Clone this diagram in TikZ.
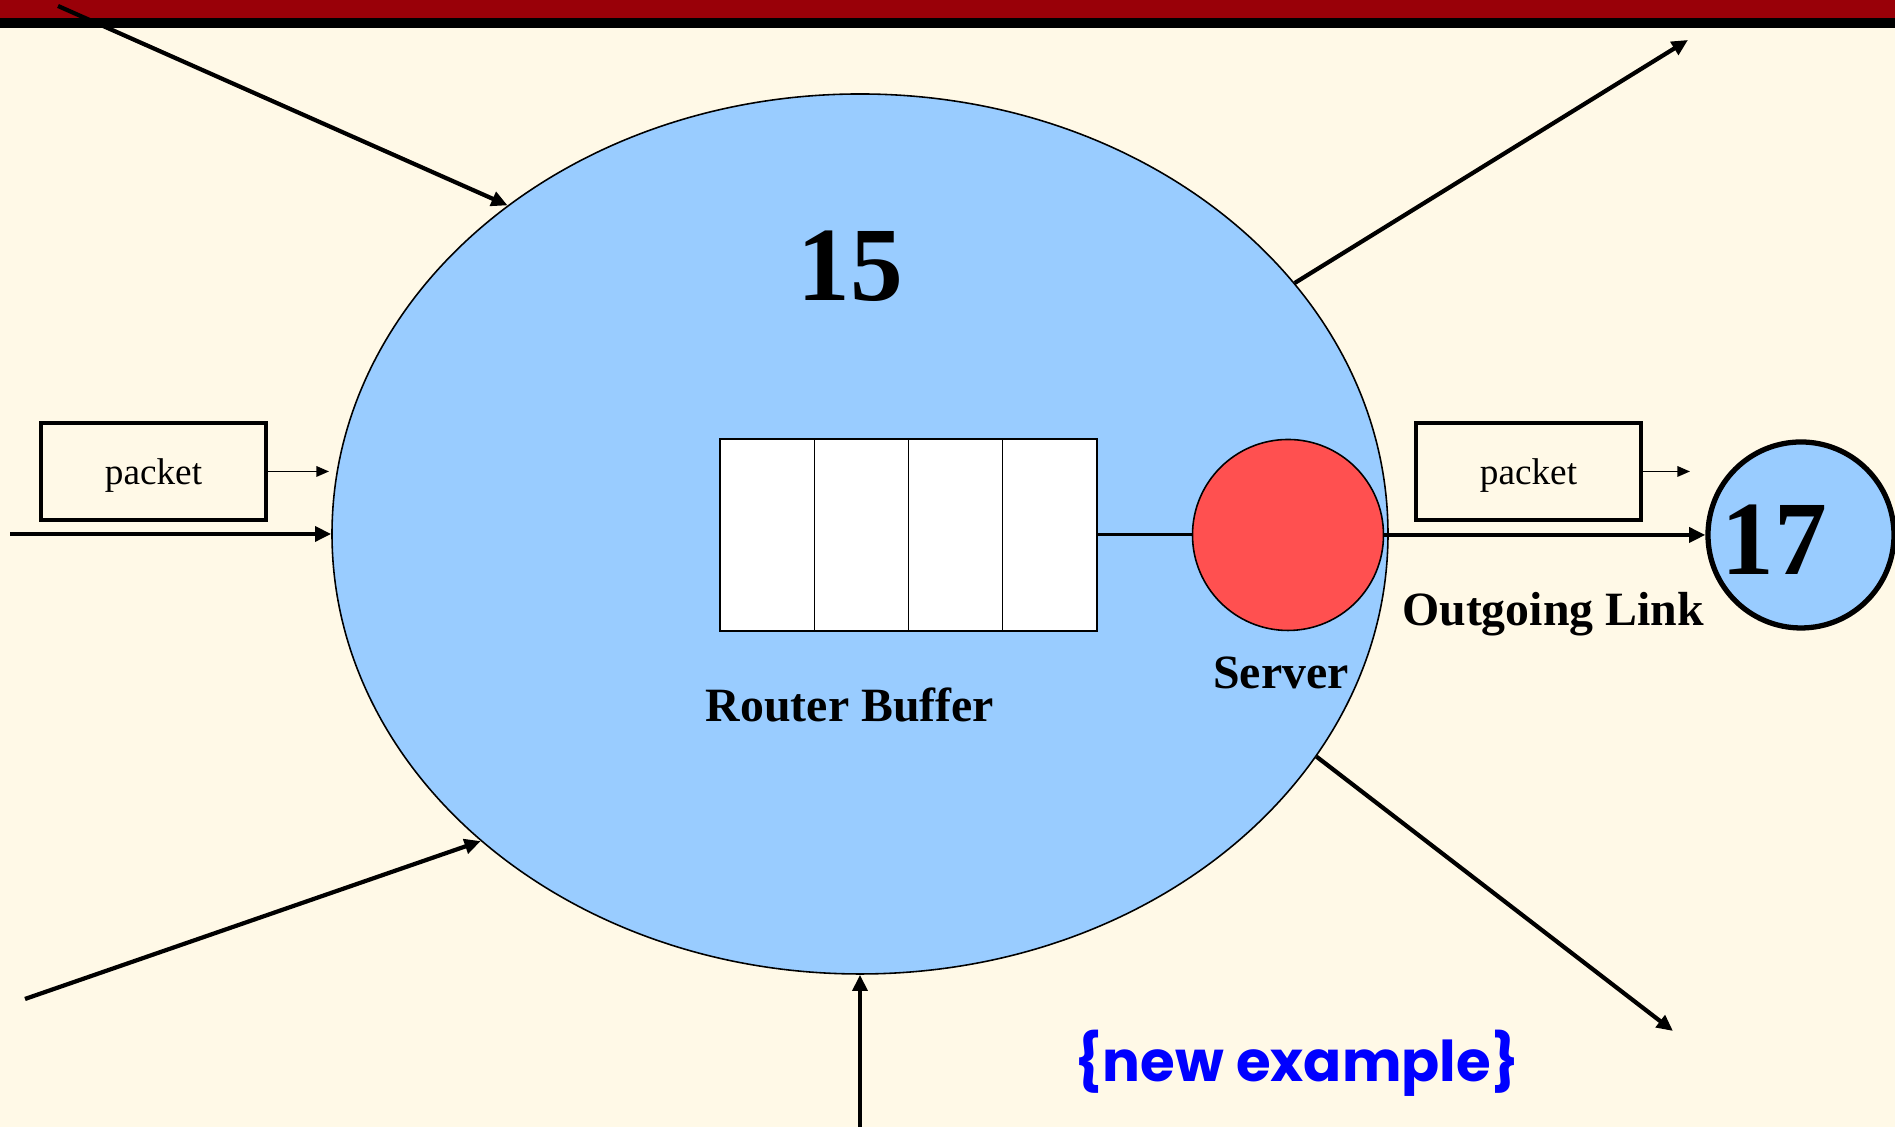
\documentclass[tikz,border=0pt]{standalone}
\usepackage{fontspec}
\setmainfont{Liberation Serif}
\newfontfamily\notefont{Poppins}
\usetikzlibrary{arrows.meta,positioning,shapes.geometric}
\definecolor{cream}{RGB}{255,249,231}
\definecolor{titlered}{RGB}{153,0,8}
\definecolor{lightblue}{RGB}{153,204,255}
\definecolor{serverred}{RGB}{255,80,80}

\begin{document}
\begin{tikzpicture}[
    link/.style={line width=1.2pt,-{Triangle[length=4.6pt,width=4.2pt]}},
    pktlink/.style={line width=0.5pt,-{Triangle[length=3.6pt,width=3pt]}},
    pkt/.style={draw,line width=1.1pt,minimum width=2.25cm,minimum height=0.97cm,text height=0.94em,text depth=0.22em,font=\fontsize{10.6}{12}\selectfont},
    cell/.style={draw,fill=white,line width=0.4pt,minimum width=0.9425cm,minimum height=1.92cm,inner sep=0pt,outer sep=0pt},
    lbl/.style={font=\fontsize{13.6}{16}\selectfont\bfseries},
    big/.style={font=\fontsize{30}{34}\selectfont\bfseries}]
    % slide background and title bars
    \useasboundingbox (0,0) rectangle (18.95,11.27);
    \fill[cream] (0,0) rectangle (18.95,11.27);
    \fill[titlered] (0,11.09) rectangle (18.95,11.27);
    \fill[black] (0,10.99) rectangle (18.95,11.09);

    \node(router)[ellipse,draw,line width=0.45pt,fill=lightblue,minimum width=10.56cm,minimum height=8.8cm,inner sep=0pt] at (8.60,5.93) {};
    \node(n15)[big] at (8.50,8.61) {15};

    \node(cell1)[cell] at (7.671,5.92) {};
    \node(cell2)[cell,right=0pt of cell1] {};
    \node(cell3)[cell,right=0pt of cell2] {};
    \node(cell4)[cell,right=0pt of cell3] {};
    \node(bufname)[lbl] at (8.50,4.22) {Router Buffer};

    \node(server)[circle,draw,line width=0.45pt,fill=serverred,minimum size=1.91cm,inner sep=0pt] at (12.88,5.92) {};
    \node(servername)[lbl] at (12.81,4.54) {Server};
    \draw[line width=0.85pt] (cell4) -- (server);

    \node(next)[circle,draw,line width=1.5pt,fill=lightblue,minimum size=1.86cm,inner sep=0pt] at (18.01,5.92) {};
    \node(n17)[big] at (17.74,5.87) {17};
    \node(linkname)[lbl] at (15.53,5.13) {Outgoing Link};
    \draw[link] (server) -- (next);

    \node(pktin)[pkt] at (1.535,6.555) {packet};
    \node(pktout)[pkt] at (15.285,6.555) {packet};
    \coordinate(pktinend) at (3.29,6.555);
    \coordinate(pktoutend) at (16.90,6.555);
    \draw[pktlink] (pktin) -- (pktinend);
    \draw[pktlink] (pktout) -- (pktoutend);

    % incoming links
    \coordinate(inw) at (0.10,5.93);
    \coordinate(innw) at (0.58,11.21);
    \coordinate(insw) at (0.25,1.28);
    \coordinate(ins) at (8.60,0);
    \draw[link] (inw) -- (router);
    \draw[link] (innw) -- (router.137);
    \draw[link] (insw) -- (router.219.5);
    \draw[link] (ins) -- (router.south);

    % outgoing links
    \coordinate(outne) at (16.88,10.87);
    \coordinate(outse) at (16.73,0.96);
    \draw[link] (router.30.7) -- (outne);
    \draw[link] (router.-26.8) -- (outse);

    \node(note)[text=blue,font=\notefont\bfseries\fontsize{16}{19}\selectfont] at (12.97,0.64) {\{new example\}};
\end{tikzpicture}
\end{document}
